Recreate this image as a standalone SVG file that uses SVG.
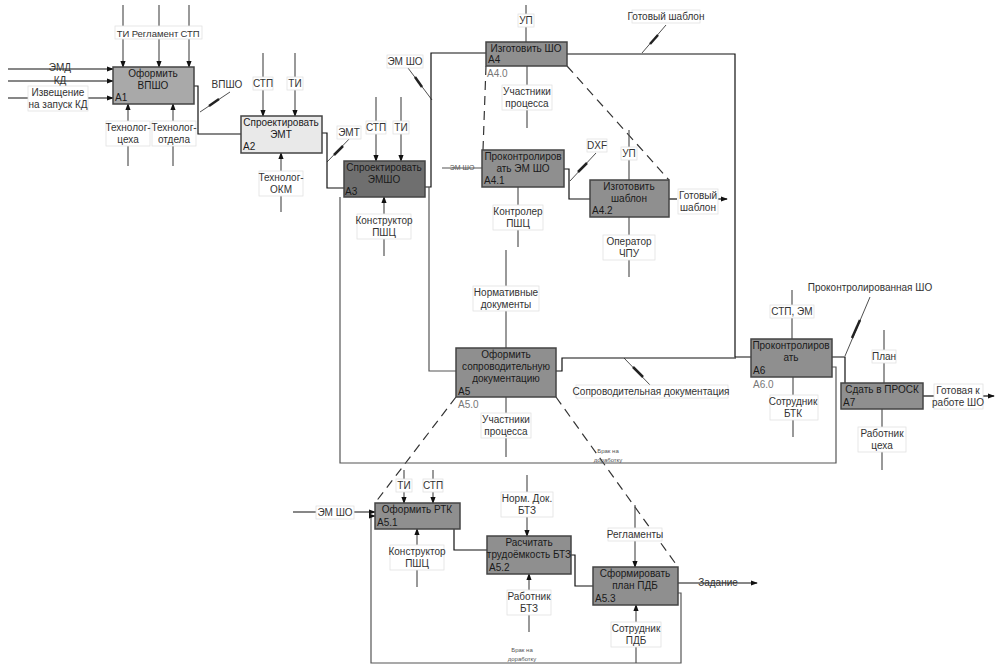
<svg xmlns="http://www.w3.org/2000/svg" width="996" height="669" viewBox="0 0 996 669">
<defs>
<marker id="ar" viewBox="0 0 8 8" refX="7" refY="4" markerWidth="6" markerHeight="6" orient="auto"><path d="M0,1 L8,4 L0,7 z" fill="#111"/></marker>
<style>
text{font-family:"Liberation Sans",Arial,sans-serif;font-size:10px;fill:#333}
.bt{text-anchor:middle;fill:#1a1a1a}
.lb{text-anchor:middle}
.sm{font-size:6px;text-anchor:middle;fill:#555}
.id{fill:#1a1a1a}
.box{stroke:#444;stroke-width:1.5}
.g1{fill:#a9a9a9}.g2{fill:#e9e9e9}.g3{fill:#6f6f6f}.g4{fill:#8f8f8f}
.c{fill:none;stroke:#111;stroke-width:1.2}
.m{fill:none;stroke:#555;stroke-width:1.2}
.d{fill:none;stroke:#333;stroke-width:1.2;stroke-dasharray:9,6}
.bg{fill:#fff;stroke:#e2e2e2;stroke-width:0.8}
.sq{fill:none;stroke:#222;stroke-width:0.8}
.sqt{fill:none;stroke:#222;stroke-width:2.5}
</style>
</defs>
<rect width="996" height="669" fill="#fff"/>

<g id="connectors">
<!-- A1 inputs -->
<path class="c" d="M8 69 H113" marker-end="url(#ar)"/>
<path class="c" d="M8 81 H113" marker-end="url(#ar)"/>
<path class="c" d="M8 98 H113" marker-end="url(#ar)"/>
<path class="m" d="M123 5 V67" marker-end="url(#ar)"/>
<path class="m" d="M159 5 V67" marker-end="url(#ar)"/>
<path class="m" d="M189 5 V67" marker-end="url(#ar)"/>
<path class="m" d="M128 166 V104" marker-end="url(#ar)"/>
<path class="m" d="M173 166 V104" marker-end="url(#ar)"/>
<path class="c" d="M194 86 H198 V134 H241"/>
<path class="sq" d="M200 112 L230 92"/><path class="sqt" d="M209 106 L219 99"/>
<!-- A2 -->
<path class="m" d="M263 53 V116" marker-end="url(#ar)"/>
<path class="m" d="M295 53 V116" marker-end="url(#ar)"/>
<path class="m" d="M281 212 V153" marker-end="url(#ar)"/>
<path class="c" d="M322 133 H327 V188 H344"/>
<path class="sq" d="M327 162 L352 136"/><path class="sqt" d="M334 155 L343 146"/>
<!-- A3 -->
<path class="m" d="M376 97 V161" marker-end="url(#ar)"/>
<path class="m" d="M401 97 V161" marker-end="url(#ar)"/>
<path class="m" d="M384 256 V197" marker-end="url(#ar)"/>
<path class="c" d="M425 187 H431 V53 H486"/>
<path class="sq" d="M432 100 L408 68"/><path class="sqt" d="M422 87 L415 77"/>
<path class="m" d="M429 187 V371 H456"/>
<!-- A4 -->
<path class="m" d="M526 5 V42"/>
<path class="m" d="M527 128 V66"/>
<path class="c" d="M567 54 H735 V357 H751"/>
<path class="sq" d="M642 53 L666 25"/><path class="sqt" d="M650 44 L658 35"/>
<path class="d" d="M486 66 L483 150"/>
<path class="d" d="M567 66 L669 180"/>
<!-- A4.1 -->
<path class="m" d="M442 168 H482"/>
<path class="m" d="M518 187 V247"/>
<path class="c" d="M564 169 H569 V199 H590"/>
<path class="sq" d="M570 181 L596 153"/><path class="sqt" d="M578 172 L587 163"/>
<!-- A4.2 -->
<path class="m" d="M629 130 V180"/>
<path class="m" d="M629 217 V277"/>
<path class="c" d="M669 199 H677"/>
<path class="c" d="M718 199 H727" marker-end="url(#ar)"/>
<!-- A5 -->
<path class="m" d="M506 250 V348"/>
<path class="m" d="M506 397 V457"/>
<path class="c" d="M556 371 H562 V358 H736"/>
<path class="sq" d="M624 358 L651 386"/><path class="sqt" d="M633 367 L643 377"/>
<path class="d" d="M456 397 L375 503"/>
<path class="d" d="M556 397 L678 567"/>
<!-- A6 -->
<path class="m" d="M792 290 V339"/>
<path class="m" d="M793 377 V437"/>
<path class="c" d="M832 357 H845 V383"/>
<path class="sq" d="M845 356 L870 297"/><path class="sqt" d="M852 338 L860 320"/>
<path class="m" d="M832 367 H836 V463 H340 V197"/>
<!-- A7 -->
<path class="m" d="M884 330 V383"/>
<path class="m" d="M882 409 V470"/>
<path class="c" d="M923 396 H934"/>
<path class="c" d="M983 396 H994" marker-end="url(#ar)"/>
<!-- A5.1 -->
<path class="c" d="M293 512 H375" marker-end="url(#ar)"/>
<path class="m" d="M404 470 V503" marker-end="url(#ar)"/>
<path class="m" d="M433 470 V503" marker-end="url(#ar)"/>
<path class="m" d="M417 587 V529" marker-end="url(#ar)"/>
<path class="c" d="M454 529 V550 H487"/>
<!-- A5.2 -->
<path class="m" d="M527 475 V536" marker-end="url(#ar)"/>
<path class="m" d="M529 632 V574" marker-end="url(#ar)"/>
<path class="c" d="M571 555 H575 V586 H593"/>
<!-- A5.3 -->
<path class="m" d="M635 505 V567" marker-end="url(#ar)"/>
<path class="m" d="M636 663 V605" marker-end="url(#ar)"/>
<path class="c" d="M678 583 H757" marker-end="url(#ar)"/>
<path class="m" d="M678 593 H681 V663 H371 V516 H375" marker-end="url(#ar)"/>
</g>

<g id="labels">
<rect class="bg" x="115" y="26" width="87" height="13"/>
<text x="123" y="37" class="lb" style="font-size:9.5px">ТИ</text><text x="155" y="37" class="lb" style="font-size:9.5px">Регламент</text><text x="190" y="37" class="lb" style="font-size:9.5px">СТП</text>
<text x="60" y="71" class="lb">ЭМД</text>
<text x="60" y="84" class="lb">КД</text>
<rect class="bg" x="28" y="86" width="60" height="25"/>
<text x="58" y="96" class="lb">Извещение</text><text x="58" y="108" class="lb">на запуск КД</text>
<rect class="bg" x="106" y="121" width="44" height="25"/>
<text x="128" y="131" class="lb">Технолог-</text><text x="128" y="143" class="lb">цеха</text>
<rect class="bg" x="152" y="121" width="44" height="25"/>
<text x="174" y="131" class="lb">Технолог-</text><text x="174" y="143" class="lb">отдела</text>
<text x="227" y="88" class="lb">ВПШО</text>
<rect class="bg" x="253" y="77" width="20" height="13"/><text x="263" y="87" class="lb">СТП</text>
<rect class="bg" x="287" y="77" width="16" height="13"/><text x="295" y="87" class="lb">ТИ</text>
<rect class="bg" x="259" y="171" width="44" height="25"/>
<text x="281" y="181" class="lb">Технолог-</text><text x="281" y="193" class="lb">ОКМ</text>
<rect class="bg" x="337" y="126" width="24" height="13"/><text x="349" y="136" class="lb">ЭМТ</text>
<rect class="bg" x="366" y="121" width="20" height="13"/><text x="376" y="131" class="lb">СТП</text>
<rect class="bg" x="393" y="121" width="16" height="13"/><text x="401" y="131" class="lb">ТИ</text>
<rect class="bg" x="357" y="214" width="54" height="25"/>
<text x="384" y="224" class="lb">Конструктор</text><text x="384" y="236" class="lb">ПШЦ</text>
<rect class="bg" x="387" y="55" width="36" height="13"/><text x="405" y="65" class="lb">ЭМ ШО</text>
<rect class="bg" x="518" y="14" width="16" height="13"/><text x="526" y="24" class="lb">УП</text>
<rect class="bg" x="502" y="85" width="50" height="25"/>
<text x="527" y="95" class="lb">Участники</text><text x="527" y="107" class="lb">процесса</text>
<rect class="bg" x="632" y="10" width="68" height="13"/><text x="666" y="20" class="lb">Готовый шаблон</text>
<text x="462" y="170" class="sm" style="font-size:7px">ЭМ ШО</text>
<rect class="bg" x="493" y="205" width="50" height="25"/>
<text x="518" y="215" class="lb">Контролер</text><text x="518" y="227" class="lb">ПШЦ</text>
<rect class="bg" x="587" y="139" width="20" height="13"/><text x="597" y="149" class="lb">DXF</text>
<rect class="bg" x="621" y="147" width="16" height="13"/><text x="629" y="157" class="lb">УП</text>
<rect class="bg" x="603" y="235" width="52" height="25"/>
<text x="629" y="245" class="lb">Оператор</text><text x="629" y="257" class="lb">ЧПУ</text>
<rect class="bg" x="678" y="189" width="40" height="25"/>
<text x="698" y="199" class="lb">Готовый</text><text x="698" y="211" class="lb">шаблон</text>
<rect class="bg" x="473" y="286" width="66" height="25"/>
<text x="506" y="296" class="lb">Нормативные</text><text x="506" y="308" class="lb">документы</text>
<rect class="bg" x="481" y="413" width="50" height="25"/>
<text x="506" y="423" class="lb">Участники</text><text x="506" y="435" class="lb">процесса</text>
<rect class="bg" x="576" y="385" width="152" height="13"/><text x="651" y="395" class="lb">Сопроводительная документация</text>
<text x="608" y="453" class="sm">Брак на</text><text x="608" y="462" class="sm">доработку</text>
<rect class="bg" x="770" y="305" width="44" height="13"/><text x="792" y="315" class="lb">СТП, ЭМ</text>
<rect class="bg" x="770" y="395" width="48" height="25"/>
<text x="793" y="405" class="lb">Сотрудник</text><text x="793" y="417" class="lb">БТК</text>
<text x="870" y="291" class="lb">Проконтролированная ШО</text>
<rect class="bg" x="872" y="350" width="24" height="13"/><text x="884" y="360" class="lb">План</text>
<rect class="bg" x="858" y="427" width="48" height="25"/>
<text x="882" y="437" class="lb">Работник</text><text x="882" y="449" class="lb">цеха</text>
<rect class="bg" x="934" y="384" width="49" height="25"/>
<text x="958" y="394" class="lb">Готовая к</text><text x="958" y="406" class="lb">работе ШО</text>
<rect class="bg" x="316" y="506" width="38" height="13"/><text x="335" y="516" class="lb">ЭМ ШО</text>
<rect class="bg" x="396" y="479" width="16" height="13"/><text x="404" y="489" class="lb">ТИ</text>
<rect class="bg" x="423" y="479" width="20" height="13"/><text x="433" y="489" class="lb">СТП</text>
<rect class="bg" x="390" y="545" width="54" height="25"/>
<text x="417" y="555" class="lb">Конструктор</text><text x="417" y="567" class="lb">ПШЦ</text>
<rect class="bg" x="501" y="492" width="52" height="25"/>
<text x="527" y="502" class="lb">Норм. Док.</text><text x="527" y="514" class="lb">БТЗ</text>
<rect class="bg" x="507" y="590" width="44" height="25"/>
<text x="529" y="600" class="lb">Работник</text><text x="529" y="612" class="lb">БТЗ</text>
<rect class="bg" x="608" y="528" width="54" height="13"/><text x="635" y="538" class="lb">Регламенты</text>
<rect class="bg" x="611" y="622" width="50" height="25"/>
<text x="636" y="632" class="lb">Сотрудник</text><text x="636" y="644" class="lb">ПДБ</text>
<text x="718" y="586" class="lb">Задание</text>
<text x="522" y="652" class="sm">Брак на</text><text x="522" y="661" class="sm">доработку</text>
</g>

<g id="A1"><rect class="box g1" x="113" y="67" width="81" height="37"/>
<text class="bt" x="153" y="77">Оформить</text><text class="bt" x="153" y="89">ВПШО</text><text class="id" x="115" y="101">A1</text></g>
<g id="A2"><rect class="box g2" x="241" y="116" width="81" height="37"/>
<text class="bt" x="281" y="126">Спроектировать</text><text class="bt" x="281" y="138">ЭМТ</text><text class="id" x="243" y="150">A2</text></g>
<g id="A3"><rect class="box g3" x="344" y="161" width="81" height="36"/>
<text class="bt" x="384" y="171">Спроектировать</text><text class="bt" x="384" y="183">ЭМШО</text><text class="id" x="345" y="195">A3</text></g>
<g id="A4"><rect class="box g4" x="486" y="42" width="81" height="24"/>
<text class="bt" x="526" y="52">Изготовить ШО</text><text class="id" x="488" y="63">A4</text><text x="487" y="77" style="fill:#777">A4.0</text></g>
<g id="A4.1"><rect class="box g4" x="482" y="150" width="82" height="37"/>
<text class="bt" x="523" y="160">Проконтролиров</text><text class="bt" x="523" y="172">ать ЭМ ШО</text><text class="id" x="484" y="184">A4.1</text></g>
<g id="A4.2"><rect class="box g4" x="590" y="180" width="79" height="37"/>
<text class="bt" x="629" y="190">Изготовить</text><text class="bt" x="629" y="202">шаблон</text><text class="id" x="592" y="214">A4.2</text></g>
<g id="A5"><rect class="box g4" x="456" y="348" width="100" height="49"/>
<text class="bt" x="506" y="358">Оформить</text><text class="bt" x="506" y="370">сопроводительную</text><text class="bt" x="506" y="382">документацию</text><text class="id" x="458" y="395">A5</text><text x="458" y="408" style="fill:#777">A5.0</text></g>
<g id="A6"><rect class="box g4" x="751" y="339" width="81" height="38"/>
<text class="bt" x="791" y="349">Проконтролиров</text><text class="bt" x="791" y="361">ать</text><text class="id" x="753" y="374">A6</text><text x="753" y="388" style="fill:#777">A6.0</text></g>
<g id="A7"><rect class="box g4" x="841" y="383" width="82" height="26"/>
<text class="bt" x="882" y="393">Сдать в ПРОСК</text><text class="id" x="843" y="406">A7</text></g>
<g id="A5.1"><rect class="box g4" x="375" y="503" width="85" height="26"/>
<text class="bt" x="417" y="513">Оформить РТК</text><text class="id" x="377" y="526">A5.1</text></g>
<g id="A5.2"><rect class="box g4" x="487" y="536" width="84" height="38"/>
<text class="bt" x="529" y="546">Расчитать</text><text class="bt" x="529" y="558">трудоёмкость БТЗ</text><text class="id" x="489" y="571">A5.2</text></g>
<g id="A5.3"><rect class="box g4" x="593" y="567" width="85" height="38"/>
<text class="bt" x="635" y="577">Сформировать</text><text class="bt" x="635" y="589">план ПДБ</text><text class="id" x="595" y="602">A5.3</text></g>
</svg>
